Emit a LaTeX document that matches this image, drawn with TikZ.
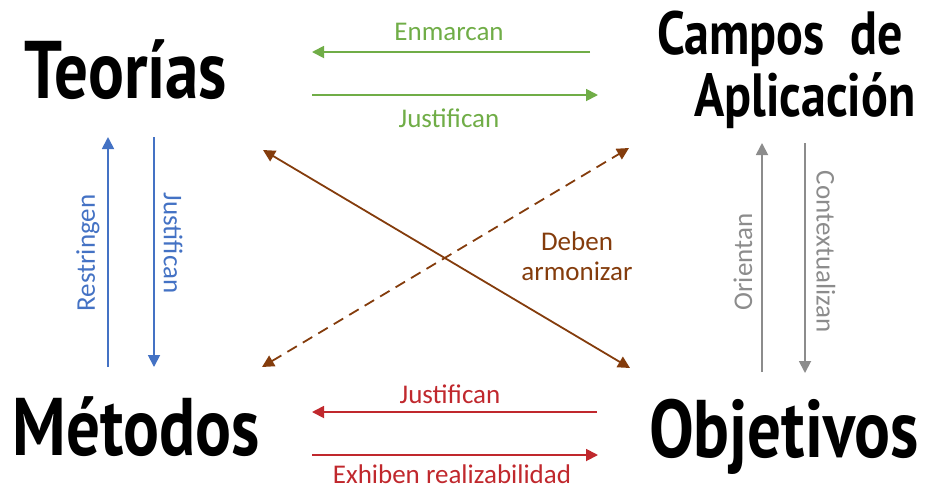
\documentclass[tikz,border=0pt]{standalone}
\usepackage{fontspec}
\setmainfont{Carlito}
\newfontfamily\titlefont{PT Sans}
\usetikzlibrary{arrows.meta,calc}
\definecolor{TGreen}{HTML}{70AD47}
\definecolor{TBlue}{HTML}{4472C4}
\definecolor{TGray}{HTML}{8C8C8C}
\definecolor{TBrown}{HTML}{843C0C}
\definecolor{TRed}{HTML}{C0282D}
\tikzset{
    concept/.style = {font=\titlefont\bfseries\fontsize{67}{67}\selectfont, inner sep=0pt},
    flow/.style = {line width=1.8pt, -{Triangle[length=12pt,width=12pt]}},
    twoway/.style = {line width=1.8pt, {Triangle[length=12pt,width=12pt]}-{Triangle[length=12pt,width=12pt]}},
    tag/.style = {font=\fontsize{27}{30}\selectfont, inner sep=0pt}
}
\newcommand{\tall}[1]{\scalebox{1}[1.22]{#1}}
\begin{document}
\begin{tikzpicture}[x=1pt,y=-1pt]
            \useasboundingbox (0,0) rectangle (926,491);
            % concepts
            \node[concept] (teo) at (126,70) {\tall{Teorías}};
            \node[concept,align=center,font=\titlefont\bfseries\fontsize{50}{58}\selectfont] (cam) at (780,70) {\tall{Campos\ \ de}\\[4pt] \hspace*{50pt}\tall{Aplicación}};
            \node[concept] (met) at (136,427) {\tall{Métodos}};
            \node[concept] (obj) at (784,437) {\tall{Objetivos}};
            % Teorias - Campos
            \coordinate (g1a) at (590,52);  \coordinate (g1b) at (312,52);
            \coordinate (g2a) at (312,95);  \coordinate (g2b) at (598,95);
            \draw[flow,TGreen] (g1a) -- (g1b);
            \draw[flow,TGreen] (g2a) -- (g2b);
            \node[tag,text=TGreen] (enm) at (449,32) {Enmarcan};
            \node[tag,text=TGreen] (jus1) at (449,118) {Justifican};
            % Teorias - Metodos
            \coordinate (b1a) at (108,367); \coordinate (b1b) at (108,137);
            \coordinate (b2a) at (154,137); \coordinate (b2b) at (154,367);
            \draw[flow,TBlue] (b1a) -- (b1b);
            \draw[flow,TBlue] (b2a) -- (b2b);
            \node[tag,text=TBlue,rotate=90] (res) at (88,253) {Restringen};
            \node[tag,text=TBlue,rotate=-90] (jus2) at (173,243) {Justifican};
            % Campos - Objetivos
            \coordinate (c1a) at (762,372); \coordinate (c1b) at (762,143);
            \coordinate (c2a) at (805,143); \coordinate (c2b) at (805,373);
            \draw[flow,TGray] (c1a) -- (c1b);
            \draw[flow,TGray] (c2a) -- (c2b);
            \node[tag,text=TGray,rotate=90] (ori) at (743,262) {Orientan};
            \node[tag,text=TGray,rotate=-90] (ctx) at (826,252) {Contextualizan};
            % diagonals
            \coordinate (d1a) at (263,150); \coordinate (d1b) at (630,368);
            \coordinate (d2a) at (262,367); \coordinate (d2b) at (629,148);
            \draw[twoway,TBrown] (d1a) -- (d1b);
            \draw[twoway,TBrown,dash pattern=on 11pt off 7pt] (d2a) -- (d2b);
            \node[tag,text=TBrown,align=center] (arm) at (577,256) {Deben\\armonizar};
            % Objetivos - Metodos
            \coordinate (r1a) at (597,412); \coordinate (r1b) at (312,412);
            \coordinate (r2a) at (312,455); \coordinate (r2b) at (598,455);
            \draw[flow,TRed] (r1a) -- (r1b);
            \draw[flow,TRed] (r2a) -- (r2b);
            \node[tag,text=TRed] (jus3) at (450,394) {Justifican};
            \node[tag,text=TRed] (exh) at (452,474) {Exhiben realizabilidad};
\end{tikzpicture}
\end{document}
